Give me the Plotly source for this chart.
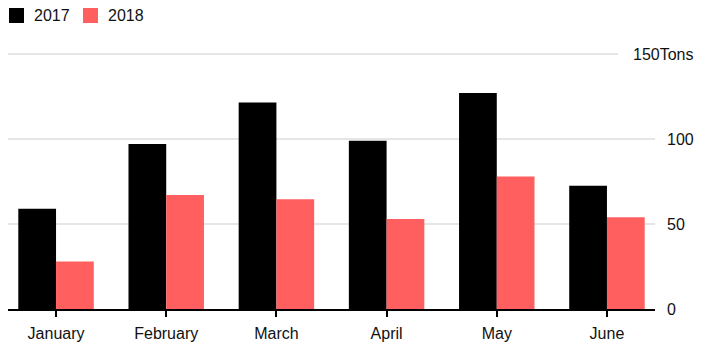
import plotly.graph_objects as go

months = ["January", "February", "March", "April", "May", "June"]
series_names = ["2017", "2018"]
values_2017 = [59, 97, 121.5, 99, 127, 72.5]
values_2018 = [28, 67, 64.5, 53, 78, 54]
colors = ["#000000", "#FF5F5F"]
y_ticks = [0, 50, 100, 150]
y_tick_labels = ["0", "50", "100", "150Tons"]

W, H = 710, 344
L, R = 8, 655          # plot area left/right in px
T, B = 44, 309         # plot area top/bottom in px
FONT = "Liberation Sans, Arial, Helvetica"

fig = go.Figure()
for name, vals, col in zip(series_names, [values_2017, values_2018], colors):
    fig.add_trace(go.Bar(x=months, y=vals, name=name, marker_color=col,
                         marker_line_width=0, showlegend=False))

def px_to_paper_x(px):
    return (px - L) / (R - L)

def px_to_paper_y(py):
    return (B - py) / (B - T)

shapes = []
annotations = []
# gridlines and right-hand value labels
for v, lab in zip(y_ticks, y_tick_labels):
    if v != 0:
        x1 = px_to_paper_x(618) if lab.endswith("Tons") else 1
        shapes.append(dict(type="line", xref="paper", yref="y", x0=0, x1=x1,
                           y0=v, y1=v, line=dict(color="#dedede", width=1.5),
                           layer="below"))
    xa = px_to_paper_x(633) if lab.endswith("Tons") else px_to_paper_x(667)
    annotations.append(dict(xref="paper", yref="y", x=xa, y=v, text=lab,
                            showarrow=False, xanchor="left", yanchor="middle",
                            xshift=-2,
                            font=dict(size=16, color="#111111", family=FONT)))

# legend built from the series
leg_x = [9, 83]
for i, (name, col) in enumerate(zip(series_names, colors)):
    x0 = px_to_paper_x(leg_x[i])
    x1 = px_to_paper_x(leg_x[i] + 15)
    shapes.append(dict(type="rect", xref="paper", yref="paper",
                       x0=x0, x1=x1, y0=px_to_paper_y(23), y1=px_to_paper_y(8),
                       fillcolor=col, line=dict(width=0)))
    annotations.append(dict(xref="paper", yref="paper",
                            x=px_to_paper_x(leg_x[i] + 23), y=px_to_paper_y(15.5),
                            text=name, showarrow=False, xanchor="left",
                            yanchor="middle",
                            font=dict(size=16, color="#111111", family=FONT)))

fig.update_layout(
    width=W, height=H,
    margin=dict(l=L, r=W - R, t=T, b=H - B, pad=0, autoexpand=False),
    paper_bgcolor="white", plot_bgcolor="white",
    barmode="group", bargap=0.315, bargroupgap=0,
    shapes=shapes, annotations=annotations,
    xaxis=dict(range=[-0.436, 5.436], showgrid=False, showline=True,
               linecolor="#000000", linewidth=1.5, ticks="outside",
               ticklen=6, tickwidth=1.5, tickcolor="#000000",
               ticklabelstandoff=3, automargin=False,
               tickfont=dict(size=16, color="#111111", family=FONT),
               zeroline=False, fixedrange=True),
    yaxis=dict(range=[0, (B - T) / 1.7], showgrid=False, zeroline=False,
               showticklabels=False, showline=False, fixedrange=True,
               automargin=False),
)

fig.write_html("out.html")
